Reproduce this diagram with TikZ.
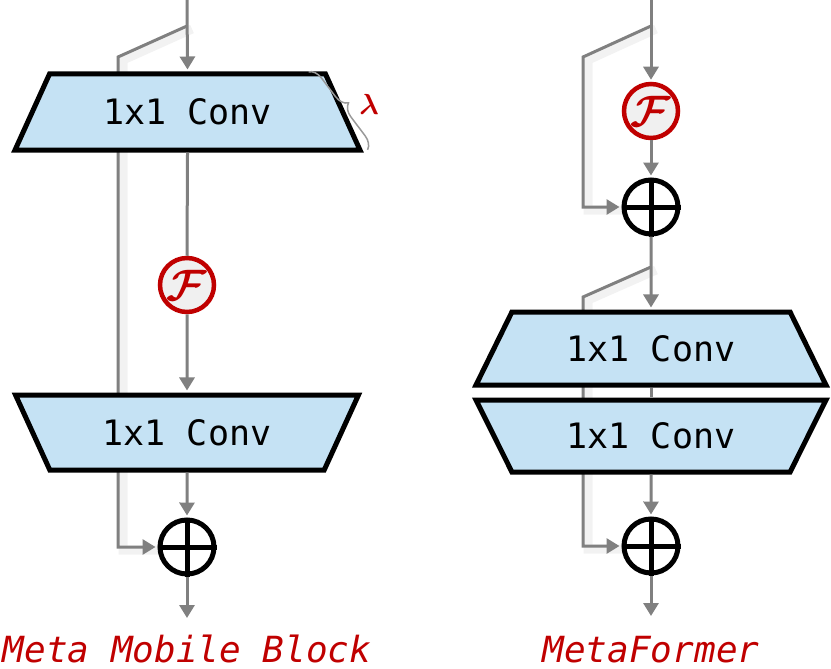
\documentclass[tikz,border=0pt]{standalone}
\usepackage{amsmath}
\usepackage{graphicx}
\usepackage{fontspec}
\setmonofont{DejaVu Sans Mono}
\usetikzlibrary{arrows.meta,decorations.pathreplacing,shapes.geometric}
\definecolor{convfill}{RGB}{197,226,244}
\definecolor{darkred}{RGB}{192,0,0}
\definecolor{linegray}{RGB}{128,128,128}
\definecolor{ffill}{RGB}{240,240,240}
\pgfdeclarelayer{bg}
\pgfsetlayers{bg,main}
\tikzset{
  conn/.style={draw=linegray, line width=3pt},
  arr/.style={conn, -{Triangle[width=15pt,length=13pt]}, shorten >=2pt},
  shadowline/.style={draw=black!5, line width=9pt, transform canvas={xshift=5pt,yshift=-3pt}},
  convbox/.style={trapezium, draw=black, fill=convfill, line width=5pt,
    trapezium stretches=true, inner sep=0pt,
    font=\ttfamily\fontsize{35}{40}\selectfont},
  fcircle/.style={circle, draw=darkred, fill=ffill, line width=4.5pt, minimum size=54pt, inner sep=0pt},
  pluscircle/.style={circle, draw=black, fill=white, line width=5pt, minimum size=54pt, inner sep=0pt},
  crossline/.style={line width=5pt},
  titlelabel/.style={text=darkred, anchor=base, inner sep=0pt, text depth=0pt, font=\ttfamily\itshape\fontsize{36}{40}\selectfont}
}
\newcommand{\Fsym}{\textcolor{darkred}{\scalebox{4.4}{$\boldsymbol{\mathcal{F}}$}}}
\begin{document}
\begin{tikzpicture}[x=1pt,y=-1pt]
\useasboundingbox (0,0) rectangle (831,669);

% ---------- left: Meta Mobile Block ----------
\coordinate (lin) at (187,0);
\coordinate (lsplit) at (187,26);
\coordinate (lcorner) at (118,57);
\coordinate (lbot) at (118,547);
\coordinate (lout) at (187,620);

\node[convbox, trapezium angle=51.5, minimum width=345pt, minimum height=76pt] (conv1) at (187.5,112) {1x1 Conv};
\node[convbox, trapezium angle=51.5, minimum width=343pt, minimum height=75pt, shape border rotate=180] (conv2) at (187,432.5) {1x1 Conv};
\node[fcircle] (f1) at (187,285) {\Fsym};
\node[pluscircle] (plus1) at (187,547) {};
\draw[crossline] (plus1.north) -- (plus1.south) (plus1.west) -- (plus1.east);

\begin{pgfonlayer}{bg}
\path[shadowline] (lsplit) -- (lcorner) -- (lbot) -- (plus1.west);
\draw[arr] (lsplit) -- (lcorner) -- (lbot) -- (plus1.west);
\end{pgfonlayer}

\draw[arr] (lin) -- (conv1.north);
\draw[conn] (conv1.south) -- (f1.north);
\draw[arr] (f1.south) -- (conv2.north);
\draw[arr] (conv2.south) -- (plus1.north);
\draw[arr] (plus1.south) -- (lout);

% lambda brace
\coordinate (bs) at (307,73);
\coordinate (be) at (366,151);
\draw[linegray!80, line width=1.5pt, decorate, decoration={brace, amplitude=13pt, raise=2pt}] (bs) -- (be);
\node[text=darkred] (lam) at (369,104) {\scalebox{2.9}{$\boldsymbol{\lambda}$}};

\node[titlelabel] (ltitle) at (187,662) {Meta Mobile Block};

% ---------- right: MetaFormer ----------
\coordinate (rin) at (651,0);
\coordinate (rsplit1) at (651,26);
\coordinate (rcorner1) at (583,57);
\coordinate (rbot1) at (583,207);
\coordinate (rsplit2) at (651,267);
\coordinate (rcorner2) at (583,297);
\coordinate (rbot2) at (583,546);
\coordinate (rout) at (651,618);

\node[fcircle] (f2) at (651,111) {\Fsym};
\node[pluscircle] (plus2) at (651,207) {};
\node[pluscircle] (plus3) at (651,546) {};
\draw[crossline] (plus2.north) -- (plus2.south) (plus2.west) -- (plus2.east);
\draw[crossline] (plus3.north) -- (plus3.south) (plus3.west) -- (plus3.east);
\node[convbox, trapezium angle=50.6, minimum width=350pt, minimum height=73pt] (conv3) at (651,348.5) {1x1 Conv};
\node[convbox, trapezium angle=50.6, minimum width=350pt, minimum height=72pt, shape border rotate=180] (conv4) at (651,436) {1x1 Conv};

\begin{pgfonlayer}{bg}
\path[shadowline] (rsplit1) -- (rcorner1) -- (rbot1) -- (plus2.west);
\path[shadowline] (rsplit2) -- (rcorner2) -- (rbot2) -- (plus3.west);
\draw[arr] (rsplit1) -- (rcorner1) -- (rbot1) -- (plus2.west);
\draw[arr] (rsplit2) -- (rcorner2) -- (rbot2) -- (plus3.west);
\draw[conn] (conv3.south) -- (conv4.north);
\end{pgfonlayer}

\draw[arr] (rin) -- (f2.north);
\draw[arr] (f2.south) -- (plus2.north);
\draw[arr] (plus2.south) -- (conv3.north);
\draw[arr] (conv4.south) -- (plus3.north);
\draw[arr] (plus3.south) -- (rout);

\node[titlelabel] (rtitle) at (651,662) {MetaFormer};
\end{tikzpicture}
\end{document}
